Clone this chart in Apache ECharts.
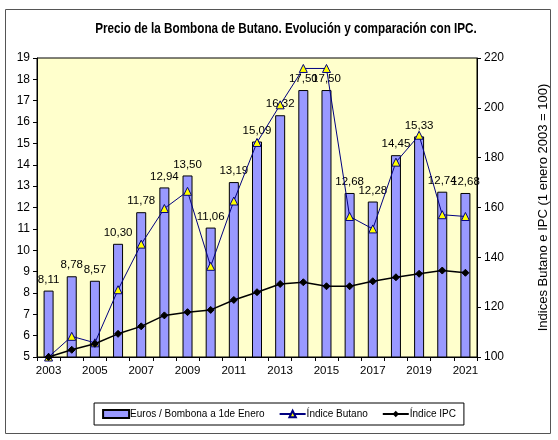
<!DOCTYPE html>
<html>
<head>
<meta charset="utf-8">
<script src="https://cdn.jsdelivr.net/npm/echarts@6/dist/echarts.min.js"></script>
<style>
    html, body { margin: 0; padding: 0; background: #fff; }
    #myChart { width: 558px; height: 440px; }
</style>
</head>
<body>
<div id="myChart"></div>
<script>
// datos
var years = ['2003', '2004', '2005', '2006', '2007', '2008', '2009', '2010', '2011', '2012',
    '2013', '2014', '2015', '2016', '2017', '2018', '2019', '2020', '2021'];
var euros = [8.11, 8.78, 8.57, 10.30, 11.78, 12.94, 13.50, 11.06, 13.19, 15.09,
    16.32, 17.50, 17.50, 12.68, 12.28, 14.45, 15.33, 12.74, 12.68];
var indiceButano = [100, 108.3, 105.7, 127.0, 145.3, 159.6, 166.5, 136.4, 162.6, 186.1,
    201.2, 215.8, 215.8, 156.4, 151.4, 178.2, 189.0, 157.1, 156.4];
var indiceIPC = [100, 102.9, 105.3, 109.3, 112.3, 116.7, 118.0, 118.9, 122.9, 126.0,
    129.3, 130.0, 128.4, 128.4, 130.4, 132.0, 133.4, 134.7, 133.8];

var font = '"Liberation Sans Narrow", "Arial Narrow", "Liberation Sans", Arial, sans-serif';

var myChart = echarts.init(document.getElementById("myChart"));
var option = {
    animation: false,
    textStyle: { fontFamily: font, color: '#000' },
    graphic: [
        {
            // marco exterior
            type: 'rect',
            shape: { x: 5.5, y: 9.5, width: 545, height: 424 },
            style: { fill: 'none', stroke: '#555', lineWidth: 1 },
            z: -1
        },
        {
            // titulo (estrechado como en el original)
            type: 'text',
            x: 286,
            y: 29,
            scaleX: 0.78,
            style: {
                text: 'Precio de la Bombona de Butano. Evolución y comparación con IPC.',
                font: 'bold 15px ' + font,
                fill: '#000',
                textAlign: 'center',
                textVerticalAlign: 'middle'
            }
        }
    ],
    grid: {
        left: 37,
        right: 80,
        top: 58,
        bottom: 83,
        show: true,
        backgroundColor: '#FFFFCC',
        borderColor: '#000',
        borderWidth: 1
    },
    legend: {
        left: 'center',
        top: 403,
        padding: [6, 8, 6, 8],
        itemGap: 14,
        itemWidth: 26,
        itemHeight: 8,
        borderColor: '#000',
        borderWidth: 1,
        textStyle: { fontFamily: font, fontSize: 10, color: '#000', padding: [0, 0, 0, -4] },
        data: [
            { name: 'Euros / Bombona a 1de Enero', icon: 'rect' },
            { name: 'Índice Butano' },
            { name: 'Índice IPC' }
        ]
    },
    xAxis: {
        type: 'category',
        data: years,
        boundaryGap: true,
        axisLine: { lineStyle: { color: '#000' } },
        axisTick: { show: true, alignWithLabel: false, interval: 0, length: 4, lineStyle: { color: '#000' } },
        axisLabel: { interval: 1, fontSize: 11.5, color: '#000', margin: 8, fontFamily: font }
    },
    yAxis: [
        {
            type: 'value',
            min: 5,
            max: 19,
            interval: 1,
            splitLine: { show: false },
            axisLine: { show: true, lineStyle: { color: '#000' } },
            axisTick: { show: true, length: 4, lineStyle: { color: '#000' } },
            axisLabel: { fontSize: 12, color: '#000', margin: 7, fontFamily: font }
        },
        {
            type: 'value',
            min: 100,
            max: 220,
            interval: 20,
            position: 'right',
            splitLine: { show: false },
            axisLine: { show: true, lineStyle: { color: '#000' } },
            axisTick: { show: true, length: 4, lineStyle: { color: '#000' } },
            axisLabel: { fontSize: 12, color: '#000', margin: 7, fontFamily: font },
            name: 'Indices Butano e IPC (1 enero 2003 = 100)',
            nameLocation: 'middle',
            nameRotate: 90,
            nameGap: 60,
            nameTextStyle: { fontSize: 13, color: '#000', fontFamily: font }
        }
    ],
    series: [
        {
            name: 'Euros / Bombona a 1de Enero',
            type: 'bar',
            data: euros,
            barWidth: 10,
            yAxisIndex: 0,
            itemStyle: { color: '#9999FF', borderColor: '#000', borderWidth: 1 },
            label: {
                show: true,
                position: 'top',
                distance: 5,
                fontSize: 11.5,
                color: '#000',
                fontFamily: font,
                formatter: function (p) {
                    return p.value.toFixed(2).replace('.', ',');
                }
            }
        },
        {
            name: 'Índice Butano',
            type: 'line',
            data: indiceButano,
            yAxisIndex: 1,
            symbol: 'triangle',
            symbolSize: 8,
            lineStyle: { color: '#000080', width: 1 },
            itemStyle: { color: '#FFFF00', borderColor: '#000080', borderWidth: 1 },
            z: 3
        },
        {
            name: 'Índice IPC',
            type: 'line',
            data: indiceIPC,
            yAxisIndex: 1,
            symbol: 'diamond',
            symbolSize: 7,
            lineStyle: { color: '#000', width: 1.5 },
            itemStyle: { color: '#000', borderColor: '#000' },
            z: 4
        }
    ]
};
myChart.setOption(option);
</script>
</body>
</html>
